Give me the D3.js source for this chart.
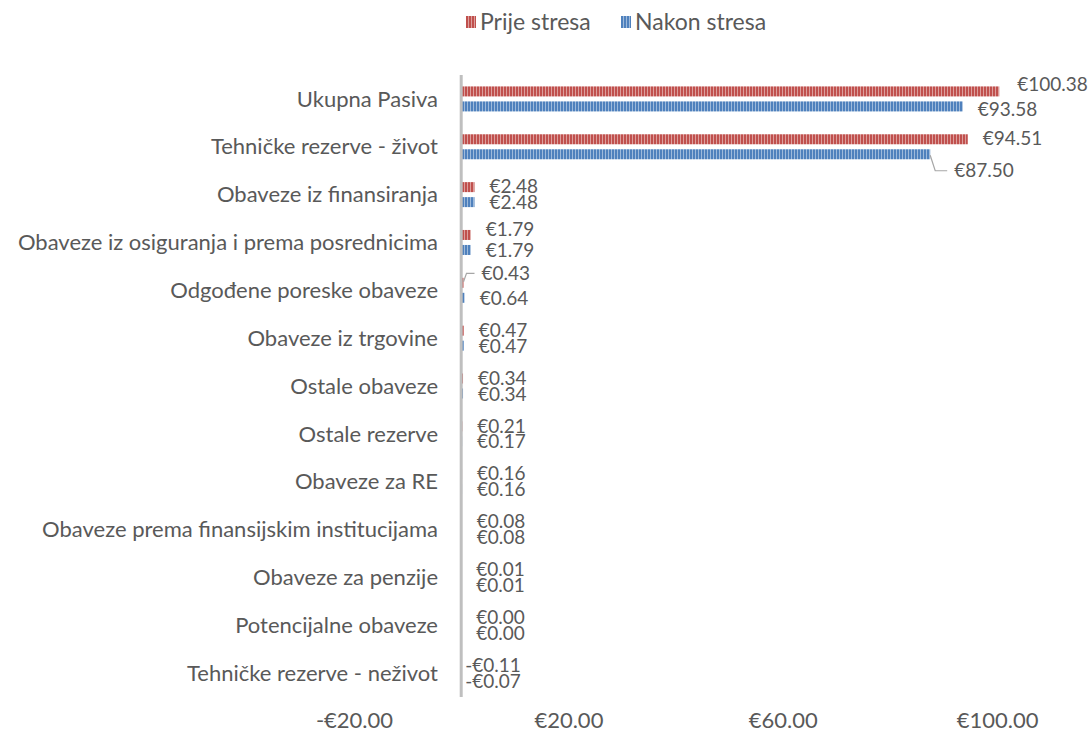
<!DOCTYPE html>
<html>
<head>
<meta charset="utf-8">
<script src="https://cdn.jsdelivr.net/npm/d3@7"></script>
<style>
  body { margin: 0; background: #fff; }
  svg text { font-family: Lato, "Noto Sans", sans-serif; fill: #595959; }
</style>
</head>
<body>
<div id="chart"></div>
<script>
// chart data
const categories = [
  'Ukupna Pasiva',
  'Tehničke rezerve - život',
  'Obaveze iz finansiranja',
  'Obaveze iz osiguranja i prema posrednicima',
  'Odgođene poreske obaveze',
  'Obaveze iz trgovine',
  'Ostale obaveze',
  'Ostale rezerve',
  'Obaveze za RE',
  'Obaveze prema finansijskim institucijama',
  'Obaveze za penzije',
  'Potencijalne obaveze',
  'Tehničke rezerve - neživot'
]
const seriesNames = ['Prije stresa', 'Nakon stresa']
const prijeStresa = [100.38, 94.51, 2.48, 1.79, 0.43, 0.47, 0.34, 0.21, 0.16, 0.08, 0.01, 0.00, -0.11]
const nakonStresa = [93.58, 87.50, 2.48, 1.79, 0.64, 0.47, 0.34, 0.17, 0.16, 0.08, 0.01, 0.00, -0.07]
const tickValues = [-20, 20, 60, 100]

const width = 1091
const height = 738
const colors = ['#c0504d', '#4f81bd']

// manual label moves (like dragged labels in the original), [dx, dy, leader]
const labelMoves = {
  '0-0': [3, -7, false],
  '0-1': [0, 2, false],
  '1-1': [9, 16, true],
  '3-0': [0, -5, false],
  '4-0': [3, -9, true]
}

const svg = d3.select('#chart').append('svg')
  .attr('width', width)
  .attr('height', height)

const defs = svg.append('defs')
colors.forEach(function (c, i) {
  const p = defs.append('pattern')
    .attr('id', 'stripe' + i)
    .attr('patternUnits', 'userSpaceOnUse')
    .attr('width', 3)
    .attr('height', 10)
  p.append('rect').attr('width', 3).attr('height', 10).attr('fill', c)
  p.append('rect').attr('x', 2).attr('width', 1).attr('height', 10)
    .attr('fill', '#fff').attr('opacity', 0.45)
})

const x = d3.scaleLinear().domain([-20, 120]).range([354, 354 + 140 * 5.36])
const y = d3.scaleBand().domain(categories).range([75, 697])
  .paddingInner(0.4775).paddingOuter(0.4775 / 2)
const ySub = d3.scaleBand().domain(seriesNames).range([0, y.bandwidth()])
  .paddingInner(1 / 3)

const fmt = function (v) {
  return (v < 0 ? '-' : '') + '€' + Math.abs(v).toFixed(2)
}

const rows = categories.map(function (c, i) {
  return { cat: c, i: i, values: [prijeStresa[i], nakonStresa[i]] }
})

// bars
const groups = svg.append('g').selectAll('g')
  .data(rows)
  .enter()
  .append('g')
  .attr('transform', d => 'translate(0,' + y(d.cat) + ')')

groups.selectAll('rect')
  .data(d => d.values.map((v, s) => ({ v: v, s: s, i: d.i })))
  .enter()
  .append('rect')
  .attr('x', d => x(Math.min(0, d.v)))
  .attr('y', d => ySub(seriesNames[d.s]))
  .attr('width', d => Math.abs(x(d.v) - x(0)))
  .attr('height', ySub.bandwidth())
  .attr('fill', d => 'url(#stripe' + d.s + ')')

// vertical axis line at zero
svg.append('line')
  .attr('x1', x(0)).attr('x2', x(0))
  .attr('y1', 75).attr('y2', 697)
  .attr('stroke', '#bfbfbf')
  .attr('stroke-width', 3)

// data labels
groups.each(function (d) {
  const g = d3.select(this)
  d.values.forEach(function (v, s) {
    const move = labelMoves[d.i + '-' + s] || [0, 0, false]
    const barEnd = x(Math.max(0, v))
    const barMid = ySub(seriesNames[s]) + ySub.bandwidth() / 2
    const lx = (v < 0 ? x(0) + 4 : barEnd + 15) + move[0]
    const ly = barMid + (s === 0 ? -0.5 : 0.5) + move[1]
    if (move[2]) {
      const bx = v < 0 ? x(0) : barEnd
      g.append('polyline')
        .attr('points', [[bx, barMid + (move[1] > 0 ? 1 : -1)], [bx + (move[1] > 0 ? 5 : 3), ly], [lx - 7, ly]].map(p => p.join(',')).join(' '))
        .attr('fill', 'none')
        .attr('stroke', '#a6a6a6')
        .attr('stroke-width', 1.2)
    }
    g.append('text')
      .attr('x', lx)
      .attr('y', ly)
      .attr('dy', '0.35em')
      .attr('font-size', 19)
      .text(fmt(v))
  })
})

// category labels
svg.append('g').selectAll('text')
  .data(categories)
  .enter()
  .append('text')
  .attr('x', 438)
  .attr('y', d => y(d) + y.bandwidth() / 2)
  .attr('dy', '0.35em')
  .attr('text-anchor', 'end')
  .attr('font-size', 22)
  .text(d => d)

// bottom axis labels
const xAxis = d3.axisBottom(x)
  .tickValues(tickValues)
  .tickFormat(d => (d < 0 ? '-' : '') + '€' + Math.abs(d).toFixed(2))
  .tickSize(0)
  .tickPadding(0)
const axisG = svg.append('g')
  .attr('transform', 'translate(0,712)')
  .call(xAxis)
axisG.select('.domain').remove()
axisG.selectAll('text')
  .attr('font-size', 22)
  .attr('font-family', null)
  .style('fill', '#595959')

// legend
const legend = svg.append('g').attr('transform', 'translate(466,22)')
const legendX = [0, 155]
seriesNames.forEach(function (name, s) {
  const item = legend.append('g').attr('transform', 'translate(' + legendX[s] + ',0)')
  item.append('rect')
    .attr('x', 0).attr('y', -6)
    .attr('width', 10).attr('height', 12)
    .attr('fill', 'url(#stripe' + s + ')')
  item.append('text')
    .attr('x', 14)
    .attr('dy', '0.35em')
    .attr('font-size', 23)
    .text(name)
})
</script>
</body>
</html>
